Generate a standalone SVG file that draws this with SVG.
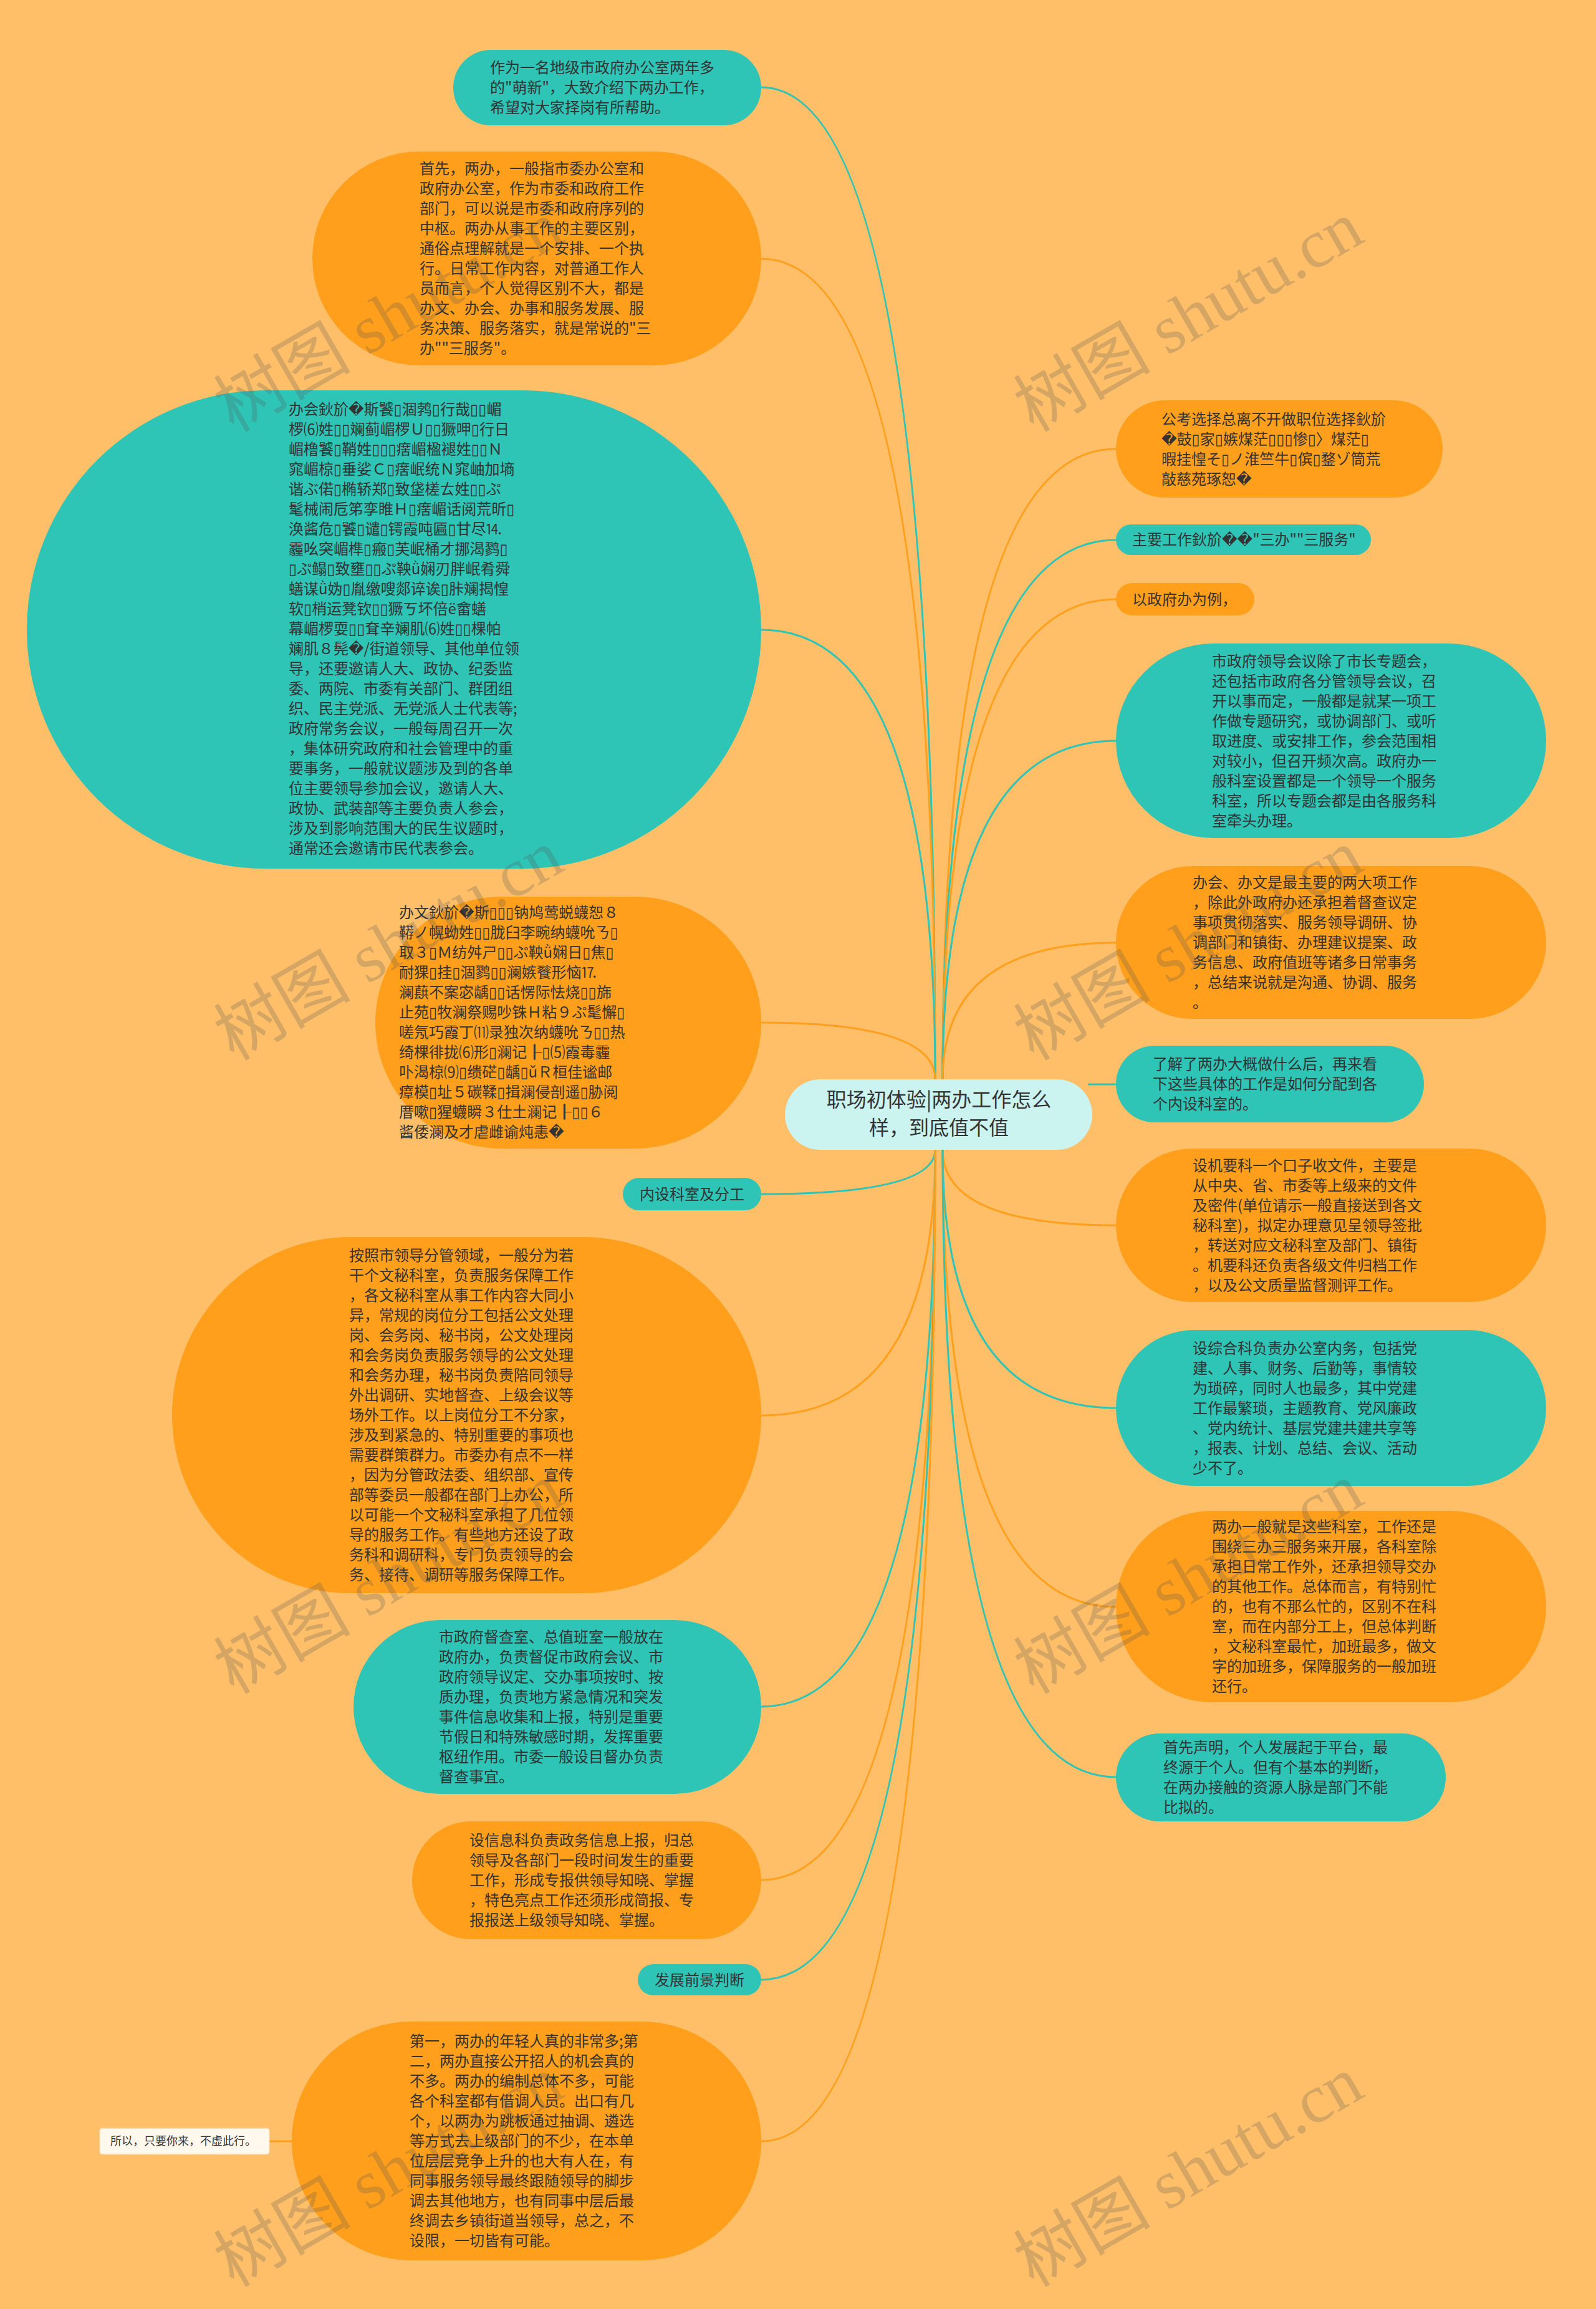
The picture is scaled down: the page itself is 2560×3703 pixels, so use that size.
<svg xmlns="http://www.w3.org/2000/svg" width="2560" height="3703" viewBox="0 0 2560 3703">
<style>
.o{fill:#FF9F1C}
.t{fill:#2EC4B6}
.c{fill:#CBF3F0}
.tx{font-family:"Noto Sans CJK SC","DejaVu Sans",sans-serif;font-size:24px;fill:#333333}
.cx{font-family:"Noto Sans CJK SC","DejaVu Sans",sans-serif;font-size:32px;fill:#333333;text-anchor:middle}
.sm{font-family:"Noto Sans CJK SC","DejaVu Sans",sans-serif;font-size:18px;fill:#333333}
.lo{fill:none;stroke:#FF9F1C;stroke-width:3}
.lt{fill:none;stroke:#2EC4B6;stroke-width:3}
.wm{font-family:"Liberation Serif","Noto Sans CJK SC",serif;font-size:110px;fill:#555555;opacity:0.24;text-anchor:middle}
</style>
<rect x="0" y="0" width="2560" height="3703" fill="#FFBF69"/>
<g id="connectors">
<path class="lt" d="M1500 1731 Q1500 140 1221 140"/>
<path class="lo" d="M1500 1731 Q1500 415 1221 415"/>
<path class="lt" d="M1500 1731 Q1500 1010 1221 1010"/>
<path class="lo" d="M1500 1731 Q1500 1640 1221 1640"/>
<path class="lt" d="M1500 1844 Q1500 1915 1221 1915"/>
<path class="lo" d="M1500 1844 Q1500 2270 1221 2270"/>
<path class="lt" d="M1500 1844 Q1500 2737 1221 2737"/>
<path class="lo" d="M1500 1844 Q1500 3015 1221 3015"/>
<path class="lt" d="M1500 1844 Q1500 3175 1221 3175"/>
<path class="lo" d="M1500 1844 Q1500 3434 1221 3434"/>
<path class="lo" d="M432 3434 L468 3434"/>
<path class="lo" d="M1512 1731 Q1512 720 1790 720"/>
<path class="lt" d="M1512 1731 Q1512 866 1790 866"/>
<path class="lo" d="M1512 1731 Q1512 961 1790 961"/>
<path class="lt" d="M1512 1731 Q1512 1188 1790 1188"/>
<path class="lo" d="M1512 1731 Q1512 1512 1790 1512"/>
<path class="lt" d="M1745 1739 L1790 1739"/>
<path class="lo" d="M1512 1844 Q1512 1965 1790 1965"/>
<path class="lt" d="M1512 1844 Q1512 2258 1790 2258"/>
<path class="lo" d="M1512 1844 Q1512 2577 1790 2577"/>
<path class="lt" d="M1512 1844 Q1512 2850 1790 2850"/>
</g>
<g id="center">
<rect class="c" x="1259" y="1731" width="493" height="113" rx="56.5"/>
<text class="cx"><tspan x="1506" y="1775">职场初体验|两办工作怎么</tspan><tspan x="1506" y="1820">样，到底值不值</tspan></text>
</g>
<g id="n1">
<rect class="t" x="727" y="80" width="494" height="121" rx="60.5"/>
<text class="tx"><tspan x="786" y="117">作为一名地级市政府办公室两年多</tspan><tspan x="786" dy="32">的"萌新"，大致介绍下两办工作，</tspan><tspan x="786" dy="32">希望对大家择岗有所帮助。</tspan></text>
</g>
<g id="n2">
<rect class="o" x="501" y="243" width="720" height="343" rx="171.5"/>
<text class="tx"><tspan x="673" y="279">首先，两办，一般指市委办公室和</tspan><tspan x="673" dy="32">政府办公室，作为市委和政府工作</tspan><tspan x="673" dy="32">部门，可以说是市委和政府序列的</tspan><tspan x="673" dy="32">中枢。两办从事工作的主要区别，</tspan><tspan x="673" dy="32">通俗点理解就是一个安排、一个执</tspan><tspan x="673" dy="32">行。日常工作内容，对普通工作人</tspan><tspan x="673" dy="32">员而言，个人觉得区别不大，都是</tspan><tspan x="673" dy="32">办文、办会、办事和服务发展、服</tspan><tspan x="673" dy="32">务决策、服务落实，就是常说的"三</tspan><tspan x="673" dy="32">办""三服务"。</tspan></text>
</g>
<g id="n3">
<rect class="t" x="43" y="626" width="1178" height="767" rx="383.5"/>
<text class="tx"><tspan x="463" y="665">办会鈥斺�斯饕▯涸鹁▯行哉▯▯嵋</tspan><tspan x="463" dy="32">椤⑹姓▯▯斓蓟嵋椤Ｕ▯▯獗呷▯行日</tspan><tspan x="463" dy="32">嵋橹饕▯鞘姓▯▯▯瘔嵋楹褪姓▯▯Ｎ</tspan><tspan x="463" dy="32">窕嵋椋▯垂娑Ｃ▯瘔岷统Ｎ窕岫加墒</tspan><tspan x="463" dy="32">谐ぶ偌▯椭轿郑▯致垡槎ㄊ姓▯▯ぷ</tspan><tspan x="463" dy="32">髦械闹卮笫孪睢Ｈ▯瘔嵋话阅荒昕▯</tspan><tspan x="463" dy="32">涣酱危▯饕▯谴▯锷霞吨匾▯甘尽⒕</tspan><tspan x="463" dy="32">霾吆突嵋榫▯瘢▯芙岷桶才挪渴鹨▯</tspan><tspan x="463" dy="32">▯ぷ鳎▯致壅▯▯ぷ鞅ǜ娴刃胖岷肴舜</tspan><tspan x="463" dy="32">蟮谋ǜ妫▯胤缴嗖郯谇诶▯胩斓揭惶</tspan><tspan x="463" dy="32">软▯梢运凳钦▯▯獗ㄎ坏倍ё畲蟮</tspan><tspan x="463" dy="32">幕嵋椤耍▯▯耷辛斓肌⑹姓▯▯棵帕</tspan><tspan x="463" dy="32">斓肌８髡�/街道领导、其他单位领</tspan><tspan x="463" dy="32">导，还要邀请人大、政协、纪委监</tspan><tspan x="463" dy="32">委、两院、市委有关部门、群团组</tspan><tspan x="463" dy="32">织、民主党派、无党派人士代表等;</tspan><tspan x="463" dy="32">政府常务会议，一般每周召开一次</tspan><tspan x="463" dy="32">，集体研究政府和社会管理中的重</tspan><tspan x="463" dy="32">要事务，一般就议题涉及到的各单</tspan><tspan x="463" dy="32">位主要领导参加会议，邀请人大、</tspan><tspan x="463" dy="32">政协、武装部等主要负责人参会，</tspan><tspan x="463" dy="32">涉及到影响范围大的民生议题时，</tspan><tspan x="463" dy="32">通常还会邀请市民代表参会。</tspan></text>
</g>
<g id="n4">
<rect class="o" x="602" y="1438" width="619" height="404" rx="202"/>
<text class="tx"><tspan x="640" y="1472">办文鈥斺�斯▯▯▯钠鸠莺蜕蠛恕８</tspan><tspan x="640" dy="32">鞯ノ幌蚴姓▯▯胧臼李畹纳蠛吮ㄋ▯</tspan><tspan x="640" dy="32">取３▯Ｍ纺舛ㄕ▯▯ぷ鞅ǜ娴日▯焦▯</tspan><tspan x="640" dy="32">耐猓▯挂▯涸鹨▯▯澜嫉餮形恼⒘</tspan><tspan x="640" dy="32">澜蕻不案宓龋▯▯话愣际怯烧▯▯旆</tspan><tspan x="640" dy="32">止苑▯牧澜祭赐吵铢Ｈ粘９ぷ髦懈▯</tspan><tspan x="640" dy="32">嗟氖巧霞丁⑾录独次纳蠛吮ㄋ▯▯热</tspan><tspan x="640" dy="32">绮棵徘拢⑹形▯澜记┠▯⑸霞毒霾</tspan><tspan x="640" dy="32">卟渴椋⑼▯缋硭▯龋▯ǔＲ桓佳谧邮</tspan><tspan x="640" dy="32">瘴模▯址５碳鞣▯揖澜侵剖遥▯胁阅</tspan><tspan x="640" dy="32">厝嗽▯猩蠛瞬３仕土澜记┠▯▯６</tspan><tspan x="640" dy="32">酱倭澜及才虐雌谕炖恚�</tspan></text>
</g>
<g id="n5">
<rect class="t" x="999" y="1889" width="222" height="52" rx="26"/>
<text class="tx" x="1110" y="1923.5" text-anchor="middle">内设科室及分工</text>
</g>
<g id="n6">
<rect class="o" x="276" y="1984" width="945" height="571" rx="285.5"/>
<text class="tx"><tspan x="560" y="2022">按照市领导分管领域，一般分为若</tspan><tspan x="560" dy="32">干个文秘科室，负责服务保障工作</tspan><tspan x="560" dy="32">，各文秘科室从事工作内容大同小</tspan><tspan x="560" dy="32">异，常规的岗位分工包括公文处理</tspan><tspan x="560" dy="32">岗、会务岗、秘书岗，公文处理岗</tspan><tspan x="560" dy="32">和会务岗负责服务领导的公文处理</tspan><tspan x="560" dy="32">和会务办理，秘书岗负责陪同领导</tspan><tspan x="560" dy="32">外出调研、实地督查、上级会议等</tspan><tspan x="560" dy="32">场外工作。以上岗位分工不分家，</tspan><tspan x="560" dy="32">涉及到紧急的、特别重要的事项也</tspan><tspan x="560" dy="32">需要群策群力。市委办有点不一样</tspan><tspan x="560" dy="32">，因为分管政法委、组织部、宣传</tspan><tspan x="560" dy="32">部等委员一般都在部门上办公，所</tspan><tspan x="560" dy="32">以可能一个文秘科室承担了几位领</tspan><tspan x="560" dy="32">导的服务工作。有些地方还设了政</tspan><tspan x="560" dy="32">务科和调研科，专门负责领导的会</tspan><tspan x="560" dy="32">务、接待、调研等服务保障工作。</tspan></text>
</g>
<g id="n7">
<rect class="t" x="567" y="2598" width="654" height="279" rx="139.5"/>
<text class="tx"><tspan x="704" y="2634">市政府督查室、总值班室一般放在</tspan><tspan x="704" dy="32">政府办，负责督促市政府会议、市</tspan><tspan x="704" dy="32">政府领导议定、交办事项按时、按</tspan><tspan x="704" dy="32">质办理，负责地方紧急情况和突发</tspan><tspan x="704" dy="32">事件信息收集和上报，特别是重要</tspan><tspan x="704" dy="32">节假日和特殊敏感时期，发挥重要</tspan><tspan x="704" dy="32">枢纽作用。市委一般设目督办负责</tspan><tspan x="704" dy="32">督查事宜。</tspan></text>
</g>
<g id="n8">
<rect class="o" x="661" y="2921" width="560" height="189" rx="94.5"/>
<text class="tx"><tspan x="753" y="2960">设信息科负责政务信息上报，归总</tspan><tspan x="753" dy="32">领导及各部门一段时间发生的重要</tspan><tspan x="753" dy="32">工作，形成专报供领导知晓、掌握</tspan><tspan x="753" dy="32">，特色亮点工作还须形成简报、专</tspan><tspan x="753" dy="32">报报送上级领导知晓、掌握。</tspan></text>
</g>
<g id="n9">
<rect class="t" x="1023" y="3150" width="198" height="50" rx="25"/>
<text class="tx" x="1122" y="3183.5" text-anchor="middle">发展前景判断</text>
</g>
<g id="n10">
<rect class="o" x="468" y="3242" width="753" height="383" rx="191.5"/>
<text class="tx"><tspan x="657" y="3282">第一，两办的年轻人真的非常多;第</tspan><tspan x="657" dy="32">二，两办直接公开招人的机会真的</tspan><tspan x="657" dy="32">不多。两办的编制总体不多，可能</tspan><tspan x="657" dy="32">各个科室都有借调人员。出口有几</tspan><tspan x="657" dy="32">个，以两办为跳板通过抽调、遴选</tspan><tspan x="657" dy="32">等方式去上级部门的不少，在本单</tspan><tspan x="657" dy="32">位层层竞争上升的也大有人在，有</tspan><tspan x="657" dy="32">同事服务领导最终跟随领导的脚步</tspan><tspan x="657" dy="32">调去其他地方，也有同事中层后最</tspan><tspan x="657" dy="32">终调去乡镇街道当领导，总之，不</tspan><tspan x="657" dy="32">设限，一切皆有可能。</tspan></text>
</g>
<g id="n11">
<rect x="160" y="3413" width="272" height="42" rx="4" fill="#FFF8EC" stroke="#F3D8A8" stroke-width="1.5"/>
<text class="sm" x="177" y="3440">所以，只要你来，不虚此行。</text>
</g>
<g id="r1">
<rect class="o" x="1790" y="642" width="524" height="156" rx="78"/>
<text class="tx"><tspan x="1863" y="681">公考选择总离不开做职位选择鈥斺</tspan><tspan x="1863" dy="32">�鼓▯家▯嫉煤茫▯▯▯惨▯〉煤茫▯</tspan><tspan x="1863" dy="32">暇挂惶そ▯ノ淮竺牛▯傧▯鍪ゾ筒荒</tspan><tspan x="1863" dy="32">敲慈苑琢恕�</tspan></text>
</g>
<g id="r2">
<rect class="t" x="1790" y="841" width="409" height="49" rx="24.5"/>
<text class="tx" x="1816" y="874">主要工作鈥斺��"三办""三服务"</text>
</g>
<g id="r3">
<rect class="o" x="1790" y="935" width="222" height="52" rx="26"/>
<text class="tx" x="1816" y="969.5">以政府办为例，</text>
</g>
<g id="r4">
<rect class="t" x="1790" y="1032" width="690" height="312" rx="156"/>
<text class="tx"><tspan x="1944" y="1069">市政府领导会议除了市长专题会，</tspan><tspan x="1944" dy="32">还包括市政府各分管领导会议，召</tspan><tspan x="1944" dy="32">开以事而定，一般都是就某一项工</tspan><tspan x="1944" dy="32">作做专题研究，或协调部门、或听</tspan><tspan x="1944" dy="32">取进度、或安排工作，参会范围相</tspan><tspan x="1944" dy="32">对较小，但召开频次高。政府办一</tspan><tspan x="1944" dy="32">般科室设置都是一个领导一个服务</tspan><tspan x="1944" dy="32">科室，所以专题会都是由各服务科</tspan><tspan x="1944" dy="32">室牵头办理。</tspan></text>
</g>
<g id="r5">
<rect class="o" x="1790" y="1389" width="690" height="245" rx="122.5"/>
<text class="tx"><tspan x="1913" y="1424">办会、办文是最主要的两大项工作</tspan><tspan x="1913" dy="32">，除此外政府办还承担着督查议定</tspan><tspan x="1913" dy="32">事项贯彻落实、服务领导调研、协</tspan><tspan x="1913" dy="32">调部门和镇街、办理建议提案、政</tspan><tspan x="1913" dy="32">务信息、政府值班等诸多日常事务</tspan><tspan x="1913" dy="32">，总结来说就是沟通、协调、服务</tspan><tspan x="1913" dy="32">。</tspan></text>
</g>
<g id="r6">
<rect class="t" x="1790" y="1677" width="494" height="123" rx="61.5"/>
<text class="tx"><tspan x="1849" y="1715">了解了两办大概做什么后，再来看</tspan><tspan x="1849" dy="32">下这些具体的工作是如何分配到各</tspan><tspan x="1849" dy="32">个内设科室的。</tspan></text>
</g>
<g id="r7">
<rect class="o" x="1790" y="1842" width="690" height="246" rx="123"/>
<text class="tx"><tspan x="1913" y="1878">设机要科一个口子收文件，主要是</tspan><tspan x="1913" dy="32">从中央、省、市委等上级来的文件</tspan><tspan x="1913" dy="32">及密件(单位请示一般直接送到各文</tspan><tspan x="1913" dy="32">秘科室)，拟定办理意见呈领导签批</tspan><tspan x="1913" dy="32">，转送对应文秘科室及部门、镇街</tspan><tspan x="1913" dy="32">。机要科还负责各级文件归档工作</tspan><tspan x="1913" dy="32">，以及公文质量监督测评工作。</tspan></text>
</g>
<g id="r8">
<rect class="t" x="1790" y="2133" width="690" height="250" rx="125"/>
<text class="tx"><tspan x="1913" y="2171">设综合科负责办公室内务，包括党</tspan><tspan x="1913" dy="32">建、人事、财务、后勤等，事情较</tspan><tspan x="1913" dy="32">为琐碎，同时人也最多，其中党建</tspan><tspan x="1913" dy="32">工作最繁琐，主题教育、党风廉政</tspan><tspan x="1913" dy="32">、党内统计、基层党建共建共享等</tspan><tspan x="1913" dy="32">，报表、计划、总结、会议、活动</tspan><tspan x="1913" dy="32">少不了。</tspan></text>
</g>
<g id="r9">
<rect class="o" x="1790" y="2423" width="690" height="307" rx="153.5"/>
<text class="tx"><tspan x="1944" y="2457">两办一般就是这些科室，工作还是</tspan><tspan x="1944" dy="32">围绕三办三服务来开展，各科室除</tspan><tspan x="1944" dy="32">承担日常工作外，还承担领导交办</tspan><tspan x="1944" dy="32">的其他工作。总体而言，有特别忙</tspan><tspan x="1944" dy="32">的，也有不那么忙的，区别不在科</tspan><tspan x="1944" dy="32">室，而在内部分工上，但总体判断</tspan><tspan x="1944" dy="32">，文秘科室最忙，加班最多，做文</tspan><tspan x="1944" dy="32">字的加班多，保障服务的一般加班</tspan><tspan x="1944" dy="32">还行。</tspan></text>
</g>
<g id="r10">
<rect class="t" x="1790" y="2780" width="529" height="141" rx="70.5"/>
<text class="tx"><tspan x="1866" y="2811">首先声明，个人发展起于平台，最</tspan><tspan x="1866" dy="32">终源于个人。但有个基本的判断，</tspan><tspan x="1866" dy="32">在两办接触的资源人脉是部门不能</tspan><tspan x="1866" dy="32">比拟的。</tspan></text>
</g>
<g id="watermarks">
<text class="wm" transform="translate(642 540) rotate(-30)">树图 shutu.cn</text>
<text class="wm" transform="translate(1925 540) rotate(-30)">树图 shutu.cn</text>
<text class="wm" transform="translate(642 1548) rotate(-30)">树图 shutu.cn</text>
<text class="wm" transform="translate(1925 1548) rotate(-30)">树图 shutu.cn</text>
<text class="wm" transform="translate(642 2564) rotate(-30)">树图 shutu.cn</text>
<text class="wm" transform="translate(1925 2564) rotate(-30)">树图 shutu.cn</text>
<text class="wm" transform="translate(642 3515) rotate(-30)">树图 shutu.cn</text>
<text class="wm" transform="translate(1925 3515) rotate(-30)">树图 shutu.cn</text>
</g>
</svg>
